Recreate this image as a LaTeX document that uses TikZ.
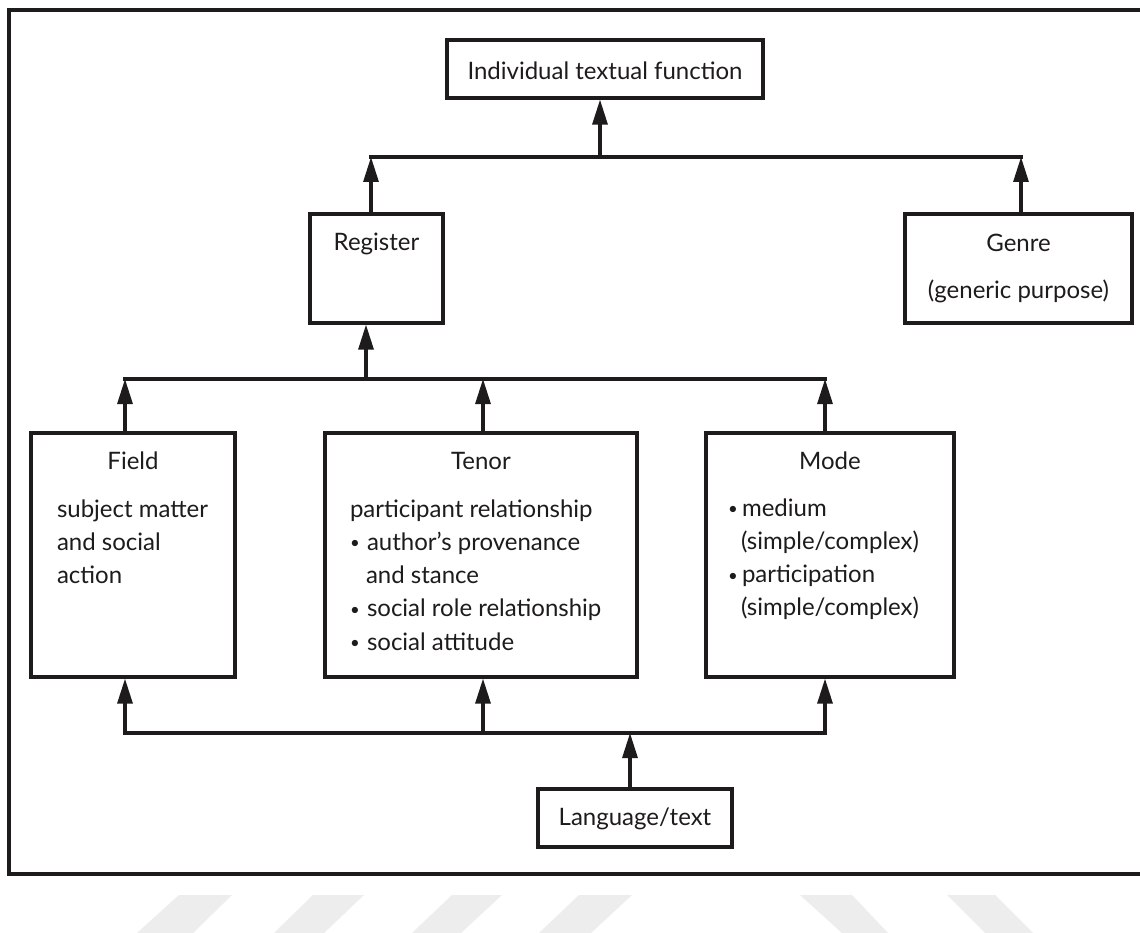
\documentclass[tikz,border=0pt]{standalone}
\usepackage{fontspec}
\setmainfont{Lato}
\usetikzlibrary{arrows.meta}
\definecolor{ink}{HTML}{1E1B1C}
\definecolor{wm}{HTML}{EDEDED}
% #1 width, #2 height, #3 baseline offset of title from top, #4 title, #5 body
\newcommand\bxt[5]{\parbox[c][#2][t]{#1}{\vspace*{\dimexpr#3-20pt\relax}{\centering\rule{0pt}{20pt}#4\par}#5}}
\newcommand\ind[1]{\hspace*{#1}}
\newcommand\bul[1]{\makebox[#1][l]{\raisebox{0.12ex}{\scalebox{0.7}{\textbullet}}}}
\begin{document}
\begin{tikzpicture}[x=1pt,y=-1pt,
  every node/.style={font=\fontsize{24}{33.3}\selectfont, text=ink},
  box/.style={draw=ink, line width=3.2pt, inner sep=0pt, fill=white},
  conn/.style={draw=ink, line width=3.1pt},
  arr/.style={conn, -{Triangle[length=25pt,width=15pt]}},
  hline/.style={conn, line cap=rect},
  stripe/.style={fill=wm, draw=none}]
\useasboundingbox (0,0) rectangle (1140,933);
\fill[white] (0,0) rectangle (1140,933);

% faint watermark stripes
\path[stripe] (179,895) -- (232,895) -- (193,933) -- (137,933) -- cycle;
\path[stripe] (313,895) -- (364,895) -- (324,933) -- (274,933) -- cycle;
\path[stripe] (452,895) -- (502,895) -- (461,933) -- (412,933) -- cycle;
\path[stripe] (579,895) -- (632,895) -- (591,933) -- (539,933) -- cycle;
\path[stripe] (800,895) -- (852,895) -- (888,933) -- (842,933) -- cycle;
\path[stripe] (947,895) -- (995,895) -- (1033,933) -- (985,933) -- cycle;

% outer frame (right side runs off the picture)
\draw[ink, line width=3.3pt] (1140,10) -- (9,10) -- (9,874) -- (1140,874);

% boxes
\node[box] (top) at (605,69) {\bxt{316pt}{58pt}{40pt}{Individual textual function}{}};
\node[box] (reg) at (376.5,268.5) {\bxt{133pt}{109pt}{37pt}{Register}{}};
\node[box] (genre) at (1018.5,268.5) {\bxt{227pt}{109pt}{38pt}{Genre}{\vspace{13.7pt}{\centering(generic purpose)\par}}};
\node[box] (field) at (133,555) {\bxt{204pt}{244pt}{36pt}{Field}{\vspace{14.7pt}%
  \ind{26pt}subject matter\par
  \ind{26pt}and social\par
  \ind{26pt}action\par}};
\node[box] (tenor) at (481,555) {\bxt{312pt}{244pt}{36pt}{Tenor}{\vspace{14.7pt}%
  \ind{25pt}participant relationship\par
  \ind{25pt}\bul{17pt}author’s provenance\par
  \ind{41pt}and stance\par
  \ind{25pt}\bul{17pt}social role relationship\par
  \ind{25pt}\bul{17pt}social attitude\par}};
\node[box] (mode) at (830,555) {\bxt{248pt}{244pt}{36pt}{Mode}{\vspace{13.7pt}%
  \ind{22pt}\bul{14pt}medium\par
  \ind{35pt}(simple/complex)\par
  \ind{22pt}\bul{14pt}participation\par
  \ind{35pt}(simple/complex)\par}};
\node[box] (lang) at (635,818) {\bxt{194pt}{58pt}{36pt}{Language/text}{}};

% junction coordinates
\coordinate (l1a) at (371,157);
\coordinate (l1m) at (600,157);
\coordinate (l1b) at (1021,157);
\coordinate (l2a) at (125,379);
\coordinate (l2m) at (366,379);
\coordinate (l2t) at (483,379);
\coordinate (l2b) at (825,379);
\coordinate (l3a) at (125,733);
\coordinate (l3t) at (483,733);
\coordinate (l3m) at (630,733);
\coordinate (l3b) at (825,733);

% upper level
\draw[hline] (l1a) -- (l1b);
\draw[arr] (l1m) -- (top.south -| l1m);
\draw[arr] (reg.north -| l1a) -- (l1a);
\draw[arr] (genre.north -| l1b) -- (l1b);

% middle level
\draw[hline] (l2a) -- (l2b);
\draw[arr] (l2m) -- (reg.south -| l2m);
\draw[arr] (field.north -| l2a) -- (l2a);
\draw[arr] (tenor.north -| l2t) -- (l2t);
\draw[arr] (mode.north -| l2b) -- (l2b);

% lower level
\draw[hline] (l3a) -- (l3b);
\draw[arr] (l3a) -- (field.south -| l3a);
\draw[arr] (l3t) -- (tenor.south -| l3t);
\draw[arr] (l3b) -- (mode.south -| l3b);
\draw[arr] (lang.north -| l3m) -- (l3m);
\end{tikzpicture}
\end{document}
